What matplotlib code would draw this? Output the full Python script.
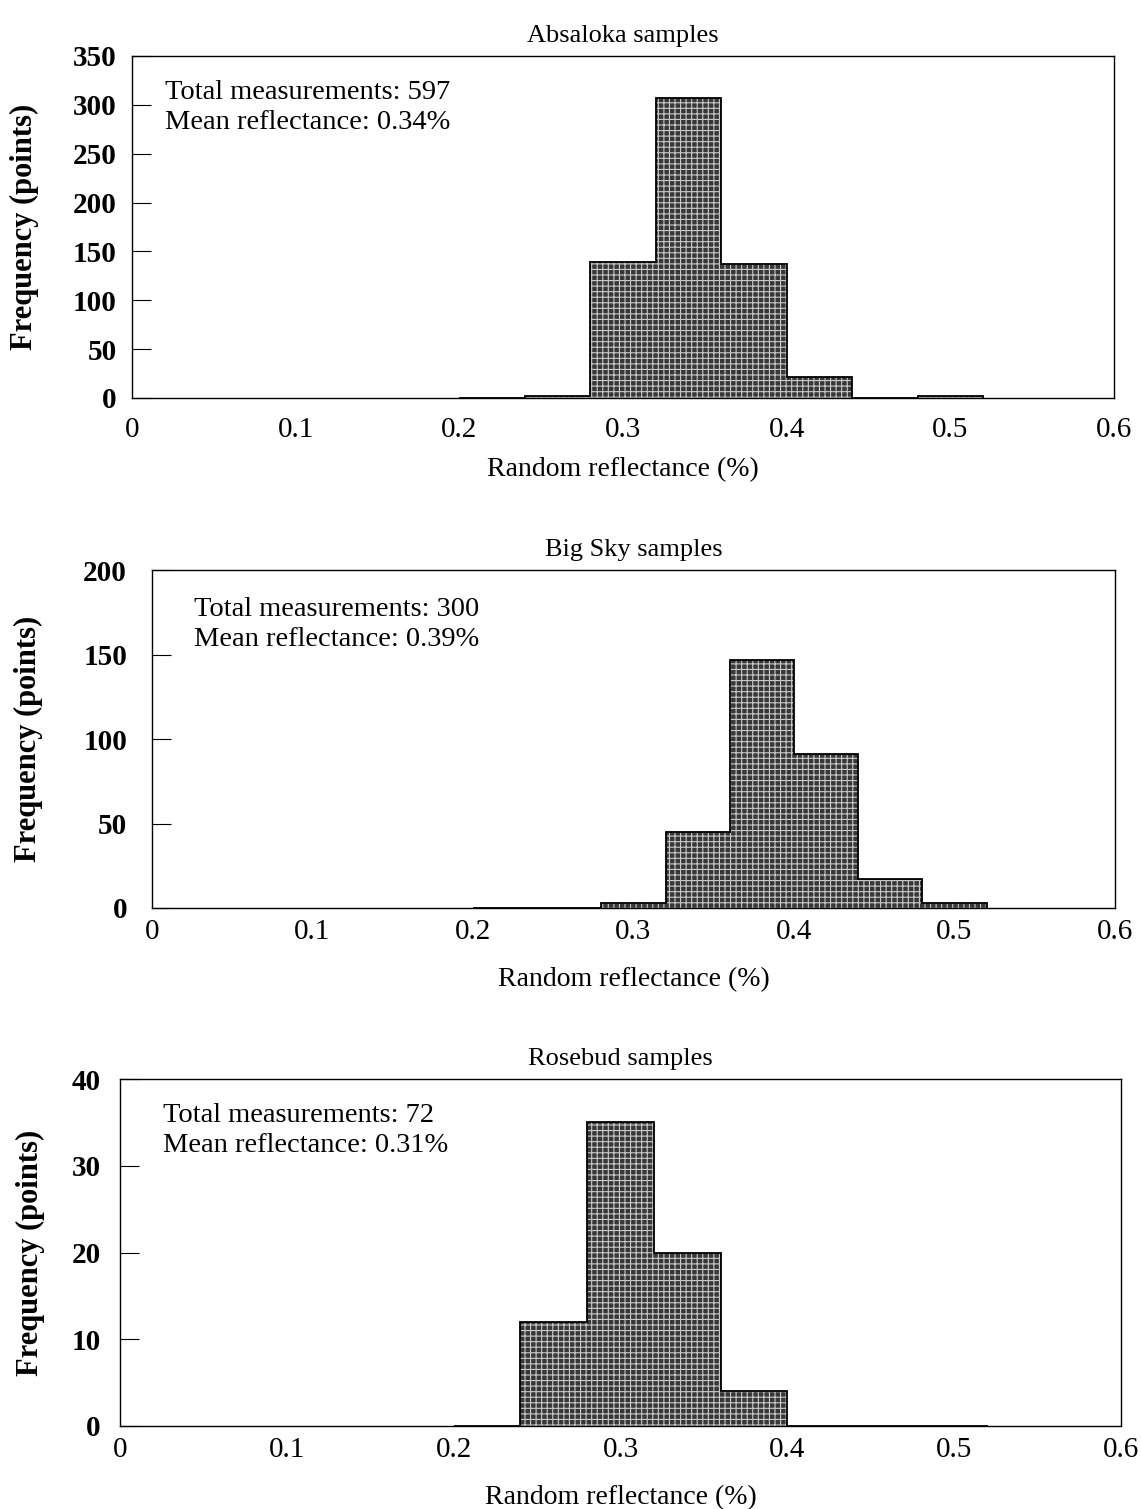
import numpy as np
import matplotlib
matplotlib.use("Agg")
import matplotlib.pyplot as plt

plt.rcParams['font.family'] = ['Liberation Serif', 'DejaVu Serif']
plt.rcParams['hatch.linewidth'] = 0.8

# bin edges shared by all three histograms (width 0.04)
bin_left = [0.20, 0.24, 0.28, 0.32, 0.36, 0.40, 0.44, 0.48]
bin_width = 0.04

# counts per bin
absaloka = [0, 2, 139, 307, 137, 21, 0, 2]
bigsky = [0, 0, 3, 45, 147, 91, 17, 3]
rosebud = [0, 12, 35, 20, 4, 0, 0, 0]

titles = ["Absaloka samples", "Big Sky samples", "Rosebud samples"]
totals = [597, 300, 72]
means = ["0.34%", "0.39%", "0.31%"]
ymax = [350, 200, 40]
ystep = [50, 50, 10]
xticks = [0, 0.1, 0.2, 0.3, 0.4, 0.5, 0.6]
xticklabels = ["0", "0.1", "0.2", "0.3", "0.4", "0.5", "0.6"]

W, H = 1141, 1509
# axes boxes in pixels: left, top, right, bottom
boxes = [(132, 56, 1114, 398), (152, 570, 1115, 908), (120, 1079, 1121, 1426)]
text_pos = [(0.034, 0.93), (0.044, 0.92), (0.043, 0.93)]
ypad = [11, 18, 14]
xpad = [14, 8, 8]
xlabpad = [10, 16, 16]
ylab_x = [-0.095, -0.113, -0.075]

fig = plt.figure(figsize=(W / 100, H / 100), dpi=100)

for i, counts in enumerate([absaloka, bigsky, rosebud]):
    l, t, r, b = boxes[i]
    ax = fig.add_axes([l / W, 1 - b / H, (r - l) / W, (b - t) / H])
    ax.bar(bin_left, counts, width=bin_width, align='edge', color='#383838',
           edgecolor='#c8c8c8', hatch='+++', linewidth=0)
    edges = list(bin_left) + [bin_left[-1] + bin_width]
    ax.stairs(counts, edges, fill=False, color='black', linewidth=1.3)
    ax.set_xlim(0, 0.6)
    ax.set_ylim(0, ymax[i])
    ax.set_yticks(np.arange(0, ymax[i] + 1, ystep[i]))
    ax.set_xticks(xticks)
    ax.set_xticklabels(xticklabels)
    ax.tick_params(axis='y', direction='in', length=14, labelsize=21, pad=ypad[i])
    for lab in ax.get_yticklabels():
        lab.set_fontweight('bold')
    ax.tick_params(axis='x', length=0, labelsize=21, pad=xpad[i])
    for sp in ax.spines.values():
        sp.set_linewidth(1.0)
    ax.set_title(titles[i], fontsize=19, pad=10)
    ax.set_xlabel("Random reflectance (%)", fontsize=20, labelpad=xlabpad[i])
    ax.set_ylabel("Frequency (points)", fontsize=22, fontweight='bold')
    ax.yaxis.set_label_coords(ylab_x[i], 0.5)
    ax.text(text_pos[i][0], text_pos[i][1],
            "Total measurements: %d\nMean reflectance: %s" % (totals[i], means[i]),
            transform=ax.transAxes, fontsize=20.5, va='top', ha='left', linespacing=1.25)

fig.savefig("out.png", dpi=100)
